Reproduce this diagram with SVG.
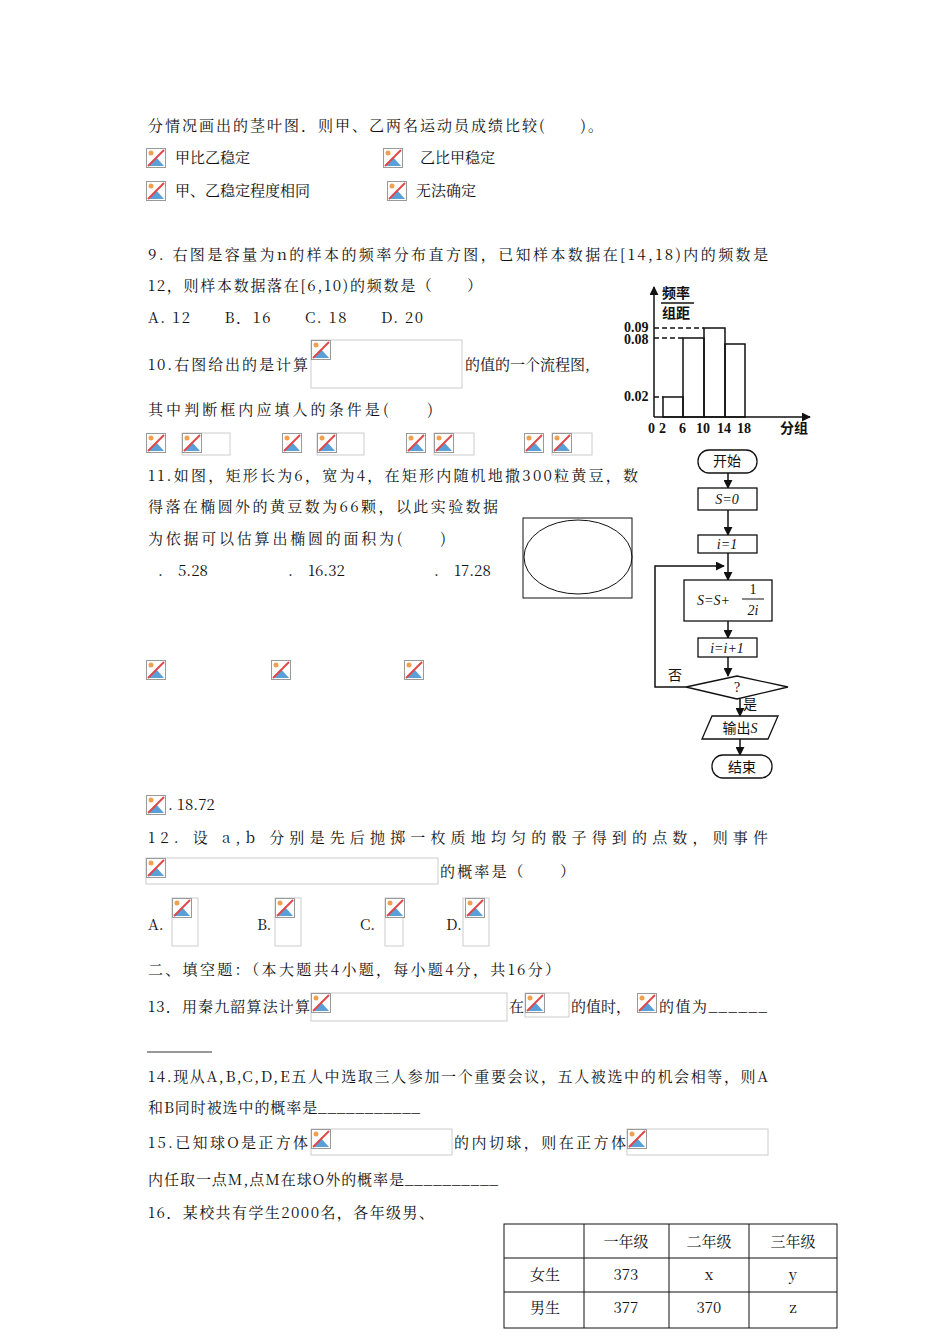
<svg xmlns="http://www.w3.org/2000/svg" width="950" height="1344" viewBox="0 0 950 1344">
<style>
text{font-family:"Noto Serif CJK SC","Noto Sans CJK SC","Liberation Serif",serif;font-size:15px;fill:#111}
.b{fill:none;stroke:#ccc;stroke-width:1}
.h{font-family:"Liberation Serif","Noto Sans CJK SC",serif;font-weight:bold;font-size:14px}
.f{font-size:14px;font-family:"Liberation Serif","Noto Sans CJK SC",serif}
</style>
<defs>
<g id="ic">
<rect x="0.5" y="0.5" width="19" height="19" fill="#fff" stroke="#999"/>
<circle cx="5" cy="5" r="2.5" fill="#f0a050"/>
<polygon points="2,18 10,9 18,18" fill="#5aa0d8"/>
<line x1="2" y1="18" x2="18" y2="2" stroke="#e04848" stroke-width="2"/>
</g>
<marker id="a" viewBox="0 0 10 10" refX="9" refY="5" markerWidth="6" markerHeight="6" orient="auto"><path d="M0,0L10,5L0,10z" fill="#111"/></marker>
</defs>
<rect width="950" height="1344" fill="#fff"/>
<g id="text">
<text x="148" y="131" textLength="455" lengthAdjust="spacing">分情况画出的茎叶图．则甲、乙两名运动员成绩比较(　　)。</text>
<use href="#ic" x="146" y="148"/><text x="175" y="163">甲比乙稳定</text>
<use href="#ic" x="383" y="148"/><text x="420" y="163">乙比甲稳定</text>
<use href="#ic" x="146" y="181"/><text x="175" y="196">甲、乙稳定程度相同</text>
<use href="#ic" x="387" y="181"/><text x="416" y="196">无法确定</text>
<text x="148" y="260" textLength="620" lengthAdjust="spacing">9. 右图是容量为n的样本的频率分布直方图，已知样本数据在[14,18)内的频数是</text>
<text x="148" y="291" textLength="334" lengthAdjust="spacing">12，则样本数据落在[6,10)的频数是（　　）</text>
<text x="148" y="323" textLength="275" lengthAdjust="spacing">A. 12　　B．16　　C. 18　　D. 20</text>
<text x="148" y="370" textLength="160" lengthAdjust="spacing">10.右图给出的是计算</text>
<rect class="b" x="311" y="340" width="151" height="48"/><use href="#ic" x="311" y="340"/>
<text x="465" y="370">的值的一个流程图,</text>
<text x="148" y="415" textLength="285" lengthAdjust="spacing">其中判断框内应填人的条件是(　　)</text>
<use href="#ic" x="146" y="433"/><rect class="b" x="182" y="433" width="48" height="22"/><use href="#ic" x="182" y="433"/>
<use href="#ic" x="282" y="433"/><rect class="b" x="317" y="433" width="47" height="22"/><use href="#ic" x="317" y="433"/>
<use href="#ic" x="406" y="433"/><rect class="b" x="434" y="433" width="40" height="22"/><use href="#ic" x="434" y="433"/>
<use href="#ic" x="524" y="433"/><rect class="b" x="552" y="433" width="40" height="22"/><use href="#ic" x="552" y="433"/>
<text x="148" y="481" textLength="490" lengthAdjust="spacing">11.如图，矩形长为6，宽为4，在矩形内随机地撒300粒黄豆，数</text>
<text x="148" y="512" textLength="350" lengthAdjust="spacing">得落在椭圆外的黄豆数为66颗，以此实验数据</text>
<text x="148" y="544" textLength="298" lengthAdjust="spacing">为依据可以估算出椭圆的面积为(　　)</text>
<text x="158" y="576">.　5.28</text><text x="288" y="576">.　16.32</text><text x="434" y="576">.　17.28</text>
<use href="#ic" x="146" y="660"/><use href="#ic" x="271" y="660"/><use href="#ic" x="404" y="660"/>
<use href="#ic" x="146" y="795"/><text x="168" y="810">.  18.72</text>
<text x="148" y="843" textLength="620" lengthAdjust="spacing">12. 设 a,b 分别是先后抛掷一枚质地均匀的骰子得到的点数，则事件</text>
<rect class="b" x="146" y="858" width="292" height="26"/><use href="#ic" x="146" y="858"/>
<text x="440" y="877" textLength="135" lengthAdjust="spacing">的概率是（　　）</text>
<text x="148" y="930">A.</text><rect class="b" x="172" y="898" width="26" height="48"/><use href="#ic" x="172" y="898"/>
<text x="257" y="930">B.</text><rect class="b" x="275" y="898" width="26" height="48"/><use href="#ic" x="275" y="898"/>
<text x="360" y="930">C.</text><rect class="b" x="385" y="898" width="18" height="48"/><use href="#ic" x="385" y="898"/>
<text x="446" y="930">D.</text><rect class="b" x="463" y="898" width="26" height="48"/><use href="#ic" x="465" y="898"/>
<text x="148" y="975" textLength="412" lengthAdjust="spacing">二、填空题：（本大题共4小题，每小题4分，共16分）</text>
<text x="148" y="1012" textLength="162" lengthAdjust="spacing">13．用秦九韶算法计算</text>
<rect class="b" x="311" y="993" width="196" height="28"/><use href="#ic" x="311" y="993"/>
<text x="509" y="1012">在</text>
<rect class="b" x="525" y="993" width="44" height="24"/><use href="#ic" x="525" y="993"/>
<text x="571" y="1012">的值时，</text>
<use href="#ic" x="637" y="993"/>
<text x="659" y="1012" textLength="108" lengthAdjust="spacing">的值为______</text>
<line x1="147" y1="1052" x2="212" y2="1052" stroke="#333"/>
<text x="148" y="1082" textLength="620" lengthAdjust="spacing">14.现从A,B,C,D,E五人中选取三人参加一个重要会议，五人被选中的机会相等，则A</text>
<text x="148" y="1113" textLength="272" lengthAdjust="spacing">和B同时被选中的概率是___________</text>
<text x="148" y="1148" textLength="160" lengthAdjust="spacing">15.已知球O是正方体</text>
<rect class="b" x="311" y="1129" width="141" height="26"/><use href="#ic" x="311" y="1129"/>
<text x="454" y="1148" textLength="172" lengthAdjust="spacing">的内切球，则在正方体</text>
<rect class="b" x="627" y="1129" width="141" height="26"/><use href="#ic" x="627" y="1129"/>
<text x="148" y="1185" textLength="350" lengthAdjust="spacing">内任取一点M,点M在球O外的概率是__________</text>
<text x="148" y="1218" textLength="286" lengthAdjust="spacing">16．某校共有学生2000名，各年级男、</text>
</g>
<g id="ellipse-fig">
<rect x="523" y="518" width="109" height="80" fill="none" stroke="#111"/>
<ellipse cx="578" cy="557" rx="54" ry="37" fill="none" stroke="#111"/>
</g>
<g id="histogram" stroke="#111" fill="none" stroke-width="1.5">
<line x1="654" y1="417" x2="654" y2="287" marker-end="url(#a)"/>
<line x1="654" y1="417" x2="810" y2="417" marker-end="url(#a)"/>
<rect x="663" y="397" width="20" height="20"/>
<rect x="683" y="338" width="21" height="79"/>
<rect x="704" y="328" width="21" height="89"/>
<rect x="725" y="344" width="20" height="73"/>
<path d="M654,328H704M654,338H683M654,397H663" stroke-dasharray="5,3"/>
<line x1="661" y1="303" x2="694" y2="303"/>
</g>
<g id="hist-labels">
<text class="h" x="662" y="298">频率</text><text class="h" x="662" y="318">组距</text>
<text class="h" x="624" y="332" font-size="12">0.09</text><text class="h" x="624" y="344" font-size="12">0.08</text><text class="h" x="624" y="401" font-size="12">0.02</text>
<text class="h" x="648" y="433">0</text><text class="h" x="659" y="433">2</text><text class="h" x="679" y="433">6</text>
<text class="h" x="696" y="433">10</text><text class="h" x="717" y="433">14</text><text class="h" x="737" y="433">18</text>
<text class="h" x="780" y="433">分组</text>
</g>
<g id="flow-connectors" stroke="#111" stroke-width="1.5" fill="none">
<line x1="728" y1="473" x2="728" y2="488" marker-end="url(#a)"/>
<line x1="728" y1="510" x2="728" y2="535" marker-end="url(#a)"/>
<line x1="728" y1="553" x2="728" y2="580" marker-end="url(#a)"/>
<line x1="728" y1="621" x2="728" y2="638" marker-end="url(#a)"/>
<line x1="728" y1="657" x2="728" y2="676" marker-end="url(#a)"/>
<line x1="740" y1="699" x2="740" y2="716" marker-end="url(#a)"/>
<line x1="740" y1="739" x2="740" y2="755" marker-end="url(#a)"/>
<path d="M686,687H655V566H724" marker-end="url(#a)"/>
</g>
<g id="flow-nodes" stroke="#111" stroke-width="1.3" fill="#fff">
<rect id="start" x="698" y="450" width="59" height="23" rx="11"/>
<rect id="s0" x="698" y="488" width="59" height="22"/>
<rect id="i1" x="698" y="535" width="59" height="18"/>
<rect id="sum" x="684" y="580" width="88" height="41"/>
<rect id="inc" x="698" y="638" width="59" height="19"/>
<polygon id="dec" points="686,687 737,676 788,687 737,699"/>
<polygon id="out" points="712,716 778,716 768,739 702,739"/>
<rect id="end" x="712" y="755" width="60" height="23" rx="11"/>
</g>
<g id="flow-text">
<text class="f" x="727" y="466" text-anchor="middle">开始</text>
<text class="f" x="727" y="504" text-anchor="middle" font-style="italic">S=0</text>
<text class="f" x="727" y="549" text-anchor="middle" font-style="italic">i=1</text>
<text class="f" x="697" y="605" font-style="italic">S=S+</text>
<text class="f" x="753" y="594" text-anchor="middle">1</text>
<line x1="742" y1="599" x2="764" y2="599" stroke="#111"/>
<text class="f" x="753" y="615" text-anchor="middle" font-style="italic">2i</text>
<text class="f" x="727" y="653" text-anchor="middle" font-style="italic">i=i+1</text>
<text class="f" x="737" y="692" text-anchor="middle" font-size="11">?</text>
<text class="f" x="668" y="680" font-size="12">否</text>
<text class="f" x="743" y="709" font-size="12">是</text>
<text class="f" x="740" y="733" text-anchor="middle">输出<tspan font-style="italic">S</tspan></text>
<text class="f" x="742" y="772" text-anchor="middle">结束</text>
</g>
<g id="table" stroke="#111" fill="none">
<rect x="504" y="1224" width="333" height="104"/>
<path d="M504,1258H837M504,1292H837M584,1224V1328M669,1224V1328M749,1224V1328"/>
</g>
<g id="table-text" text-anchor="middle">
<text x="626" y="1247">一年级</text><text x="709" y="1247">二年级</text><text x="793" y="1247">三年级</text>
<text x="545" y="1280">女生</text><text x="626" y="1280">373</text><text x="709" y="1280">x</text><text x="793" y="1280">y</text>
<text x="545" y="1313">男生</text><text x="626" y="1313">377</text><text x="709" y="1313">370</text><text x="793" y="1313">z</text>
</g>
</svg>
